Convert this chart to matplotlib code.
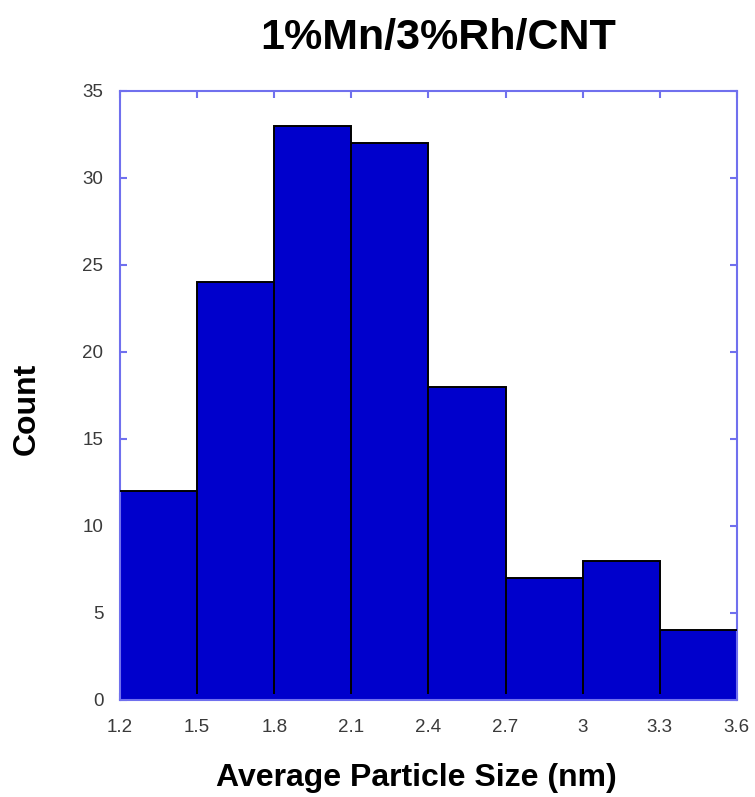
import matplotlib
matplotlib.use("Agg")
import matplotlib.pyplot as plt
import numpy as np

plt.rcParams['font.family'] = ['Liberation Sans', 'DejaVu Sans']

# histogram bins and counts
edges = [1.2, 1.5, 1.8, 2.1, 2.4, 2.7, 3.0, 3.3, 3.6]
counts = [12, 24, 33, 32, 18, 7, 8, 4]
xtick_labels = ["1.2", "1.5", "1.8", "2.1", "2.4", "2.7", "3", "3.3", "3.6"]
yticks = [0, 5, 10, 15, 20, 25, 30, 35]

bar_color = '#0000cc'
frame_color = '#7070ee'

fig = plt.figure(figsize=(7.55, 7.97), dpi=100)
ax = fig.add_axes([0.159, 0.122, 0.817, 0.764])

widths = np.diff(edges)
ax.bar(edges[:-1], counts, width=widths, align='edge', color=bar_color,
       edgecolor='none', zorder=2)

# outline: tops plus dividers between bars
ax.stairs(counts, edges, baseline=None, color='black', linewidth=1.4, zorder=3)
for i in range(1, len(counts)):
    low = min(counts[i - 1], counts[i])
    ax.vlines(edges[i], 0.35, low, color='black', linewidth=1.4, zorder=3)

ax.set_xlim(1.2, 3.6)
ax.set_ylim(0, 35)
ax.set_xticks(edges)
ax.set_xticklabels(xtick_labels)
ax.set_yticks(yticks)

for s in ax.spines.values():
    s.set_color(frame_color)
    s.set_linewidth(1.5)

ax.tick_params(direction='in', length=5, width=1.5, color=frame_color,
               labelsize=13.5, labelcolor='#3a3a3a', top=True, right=True)
ax.tick_params(axis='x', pad=14)
ax.tick_params(axis='y', pad=12)

ax.set_xlabel("Average Particle Size (nm)", fontsize=23, fontweight='bold', va='center')
ax.xaxis.set_label_coords(0.48, -0.128)
ax.set_ylabel("Count", fontsize=23, fontweight='bold', va='center')
ax.yaxis.set_label_coords(-0.151, 0.478)
fig.text(0.58, 0.952, "1%Mn/3%Rh/CNT", ha='center', va='center',
         fontsize=31, fontweight='bold')

fig.savefig("out.png", dpi=100)
